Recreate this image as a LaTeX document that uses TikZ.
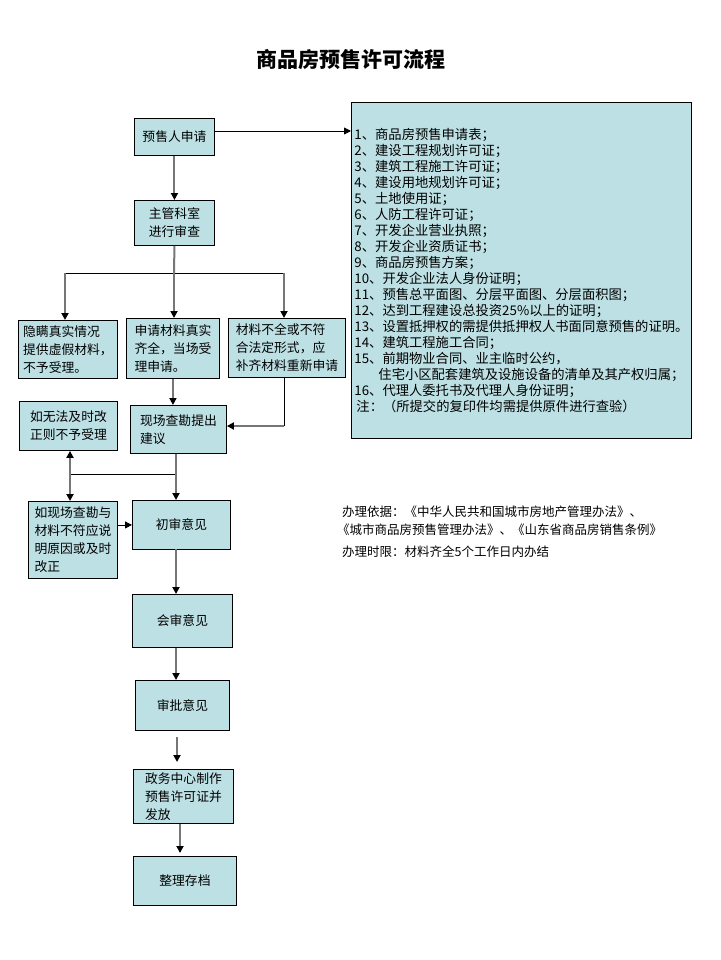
\documentclass[tikz,border=0pt]{standalone}
\usepackage{fontspec}
\setmainfont{Liberation Sans}
\newfontfamily\cjk{Noto Sans CJK SC}
\usetikzlibrary{arrows.meta}
\definecolor{boxfill}{RGB}{189,224,228}
\definecolor{lngray}{RGB}{118,118,118}
\tikzset{
  box/.style={draw=black, line width=0.9pt, fill=boxfill, inner sep=3pt, align=left,
    font=\cjk\fontsize{12.8}{18}\selectfont, anchor=north west},
  garr/.style={draw=lngray, line width=2pt, -{Triangle[length=7pt,width=7pt,color=black]}},
  barr/.style={draw=black, line width=0.9pt, -{Triangle[length=7pt,width=7pt,color=black]}},
  gline/.style={draw=lngray, line width=2pt},
  bline/.style={draw=black, line width=0.9pt},
  note/.style={font=\cjk\fontsize{12.5}{18}\selectfont, anchor=west, inner sep=0pt}
}
\begin{document}
\begin{tikzpicture}[x=1pt,y=-1pt]
\useasboundingbox (0,0) rectangle (720,960);
\fill[white] (0,0) rectangle (720,960);

\node[font=\cjk\bfseries\fontsize{21}{24}\selectfont] (title) at (351,60) {商品房预售许可流程};

% boxes
\node[box, minimum width=80pt, minimum height=37pt] (pre) at (134,118) {预售人申请};
\node[box, minimum width=340pt, minimum height=336pt, font=\cjk\fontsize{13.3}{16}\selectfont] (list) at (351,102) {%
1、商品房预售申请表；\\
2、建设工程规划许可证；\\
3、建筑工程施工许可证；\\
4、建设用地规划许可证；\\
5、土地使用证；\\
6、人防工程许可证；\\
7、开发企业营业执照；\\
8、开发企业资质证书；\\
9、商品房预售方案；\\
10、开发企业法人身份证明；\\
11、预售总平面图、分层平面图、分层面积图；\\
12、达到工程建设总投资25\%以上的证明；\\
13、设置抵押权的需提供抵押权人书面同意预售的证明。\\
14、建筑工程施工合同；\\
15、前期物业合同、业主临时公约，\\
\hspace*{24pt}住宅小区配套建筑及设施设备的清单及其产权归属；\\
16、代理人委托书及代理人身份证明；\\
\hspace*{2pt}注：（所提交的复印件均需提供原件进行查验）};
\node[box, minimum width=80pt, minimum height=45pt] (zg) at (134,200) {主管科室\\进行审查};
\node[box, minimum width=99pt, minimum height=58pt] (a) at (18,320) {隐瞒真实情况\\提供虚假材料，\\不予受理。};
\node[box, minimum width=93pt, minimum height=60pt] (b) at (126,318) {申请材料真实\\齐全，当场受\\理申请。};
\node[box, minimum width=117pt, minimum height=59pt] (c) at (228,318) {材料不全或不符\\合法定形式，应\\补齐材料重新申请};
\node[box, minimum width=98pt, minimum height=49pt] (wf) at (19,401) {如无法及时改\\正则不予受理};
\node[box, minimum width=96pt, minimum height=48pt] (xc) at (130,405) {现场查勘提出\\建议};
\node[box, minimum width=89pt, minimum height=77pt, inner sep=1pt] (rx) at (28,501) {如现场查勘与\\材料不符应说\\明原因或及时\\改正};
\node[box, minimum width=98pt, minimum height=49pt] (cs) at (132,500) {初审意见};
\node[box, minimum width=100pt, minimum height=53pt] (hs) at (132,594) {会审意见};
\node[box, minimum width=94pt, minimum height=50pt] (sp) at (135,680) {审批意见};
\node[box, minimum width=100pt, minimum height=53pt] (zw) at (133,769) {政务中心制作\\预售许可证并\\发放};
\node[box, minimum width=103pt, minimum height=49pt] (zl) at (133,856) {整理存档};

% notes
\node[note] (n1) at (342,512) {办理依据：《中华人民共和国城市房地产管理办法》、};
\node[note] (n2) at (337,530) {《城市商品房预售管理办法》、《山东省商品房销售条例》};
\node[note] (n3) at (342,552) {办理时限：材料齐全5个工作日内办结};

% connectors
\coordinate (pa) at (214,131);
\draw[barr] (pa) -- (pa -| list.west);
\draw[garr] (pre.south) -- (zg.north);
\coordinate (br) at (174,273);
\draw[gline] (zg.south) -- (br);
\coordinate (bl) at (65,273);
\coordinate (brr) at (284,273);
\draw[bline] (bl) -- (brr);
\draw[garr] (bl) -- (bl |- a.north);
\draw[garr] (br) -- (br |- b.north);
\draw[garr] (brr) -- (brr |- c.north);
\draw[garr] (b.south) -- (b.south |- xc.north);
\coordinate (cc) at (284,426);
\draw[bline] (c.south -| cc) -- (cc);
\draw[garr] (cc) -- (cc -| xc.east);
\coordinate (j) at (176,474);
\coordinate (jl) at (70,474);
\draw[gline] (xc.south -| j) -- (j);
\draw[bline] (jl) -- (j);
\draw[garr] (jl) -- (jl |- wf.south);
\draw[garr] (jl) -- (jl |- rx.north);
\draw[garr] (j) -- (j |- cs.north);
\draw[barr] (rx.east |- cs.west) -- (cs.west);
\coordinate (k1) at (176,549);
\draw[garr] (k1) -- (k1 |- hs.north);
\coordinate (k2) at (176,648);
\draw[garr] (k2) -- (k2 |- sp.north);
\coordinate (k3) at (177,737);
\coordinate (k3e) at (177,762);
\draw[garr] (k3) -- (k3e);
\coordinate (k4) at (180,824);
\coordinate (k4e) at (180,853);
\draw[garr] (k4) -- (k4e);
\end{tikzpicture}
\end{document}
